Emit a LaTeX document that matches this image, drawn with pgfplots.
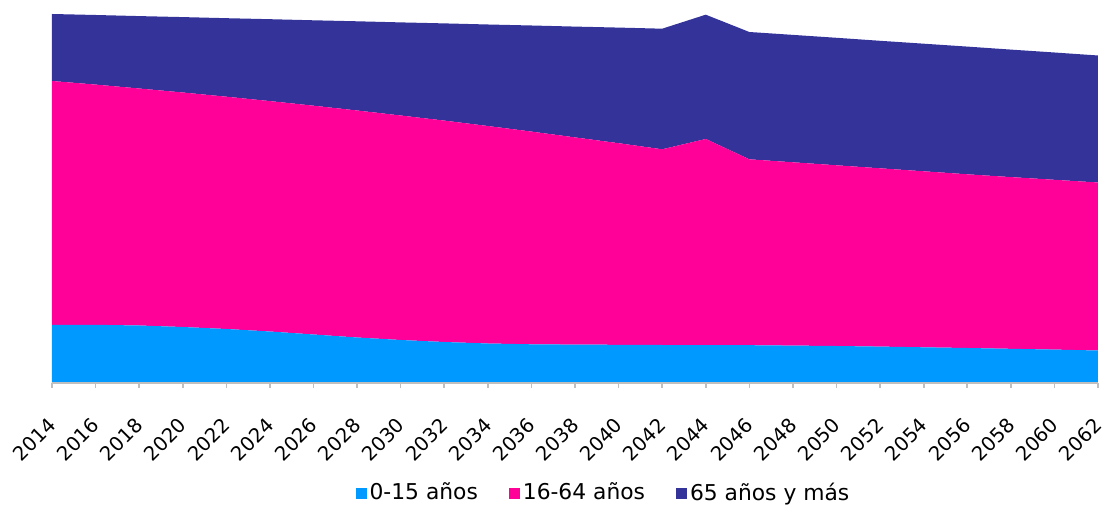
\documentclass[border=0pt]{standalone}
\usepackage{pgfplots}
\pgfplotsset{compat=1.18}
\usepackage{pgfplotstable}
\usepackage{fontspec}
\setmainfont{DejaVu Sans}
\definecolor{cblue}{HTML}{0099FF}
\definecolor{cpink}{HTML}{FF0099}
\definecolor{cnavy}{HTML}{333399}
\definecolor{axgray}{HTML}{BFBFBF}
\pgfplotstableread{
year blue pink navy
2014 58.0 244.0 67.0
2016 58.2 240.2 69.6
2018 57.5 237.0 72.4
2020 56.0 234.5 75.4
2022 54.0 232.3 78.5
2024 51.5 230.4 81.9
2026 48.5 228.8 85.4
2028 45.5 227.0 89.2
2030 43.0 224.5 93.1
2032 41.0 221.4 97.2
2034 39.5 217.5 101.5
2036 38.7 212.7 106.1
2038 38.4 207.2 110.8
2040 38.2 201.6 115.6
2042 38.0 195.7 120.6
2044 38.0 206.0 124.3
2046 37.8 185.9 127.3
2048 37.4 183.3 127.4
2050 37.0 180.7 127.5
2052 36.4 178.3 127.5
2054 35.7 176.0 127.6
2056 35.0 173.7 127.7
2058 34.2 171.7 127.5
2060 33.4 169.8 127.3
2062 32.5 168.0 127.0
}\datatable
\begin{document}
\begin{tikzpicture}
\begin{axis}[
  at={(0,0)}, anchor=south west,
  scale only axis, width=523pt, height=191.5pt,
  xmin=2014, xmax=2062, ymin=0, ymax=383,
  stack plots=y,
  axis y line=none, axis x line=bottom,
  x axis line style={-, draw=axgray, line width=0.8pt},
  xtick={2014,2016,...,2062},
  tick align=outside, major tick length=2.5pt,
  x tick style={draw=axgray, line width=0.8pt},
  xticklabel style={xshift=2.5pt, rotate=45, anchor=east, font=\fontsize{9.8}{11}\selectfont},
  xticklabel shift=14.5pt,
  /pgf/number format/1000 sep={},
  /pgf/number format/assume math mode=true,
  axis on top,
  legend columns=3,
  legend style={draw=none, at={(0.5277,-0.2872)}, anchor=center,
    font=\fontsize{10.9}{12}\selectfont,
    /tikz/every even column/.append style={column sep=14pt},
    nodes={inner sep=1.5pt}},
  legend image code/.code={\fill[#1] (0pt,-2.75pt) rectangle (5.5pt,2.75pt);},
]
\addplot[fill=cblue, draw=none] table[x=year, y=blue] {\datatable} \closedcycle;
\addplot[fill=cpink, draw=none] table[x=year, y=pink] {\datatable} \closedcycle;
\addplot[fill=cnavy, draw=none] table[x=year, y=navy] {\datatable} \closedcycle;
\legend{0-15 años, 16-64 años, 65 años y más}
\end{axis}
\pgfresetboundingbox
\path[use as bounding box] (-26pt,-60.5pt) rectangle (526pt,191.5pt);
\end{tikzpicture}
\end{document}
